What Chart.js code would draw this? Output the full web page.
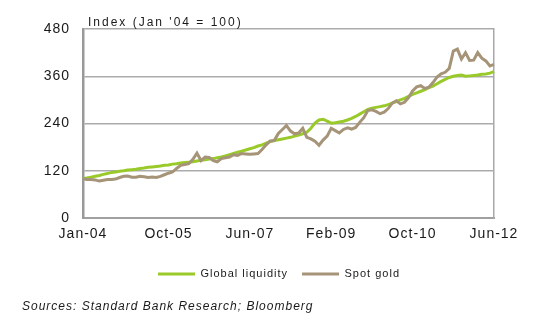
<!DOCTYPE html>
<html>
<head>
<meta charset="utf-8">
<script src="https://cdn.jsdelivr.net/npm/chart.js@4.4.1/dist/chart.umd.min.js"></script>
<style>
  html, body { margin: 0; padding: 0; background: #fff; }
  canvas { display: block; }
</style>
</head>
<body>
<canvas id="myChart" width="550" height="324"></canvas>
<script>
"use strict";

// monthly, Jan-04 .. Jun-12
const MONTHS = ['Jan', 'Feb', 'Mar', 'Apr', 'May', 'Jun', 'Jul', 'Aug', 'Sep', 'Oct', 'Nov', 'Dec'];
const START_YEAR = 2004;
const N_MONTHS = 102;
const TICK_LABELS = ['Jan-04', 'Oct-05', 'Jun-07', 'Feb-09', 'Oct-10', 'Jun-12'];

const liquidity = [
	100, 102, 104, 106, 108, 111, 113, 116, 117, 119, 120, 122,
	123, 124, 126, 127, 129, 130, 131, 132, 134, 135, 137, 138,
	140, 141, 142, 143, 145, 147, 148, 150, 151, 153, 155, 158,
	161, 164, 167, 170, 173, 176, 179, 183, 186, 190, 194, 197,
	199, 201, 203, 205, 208, 211, 214, 218, 228, 241, 249, 251,
	246, 241, 242, 244, 246, 249, 253, 258, 264, 270, 276, 279,
	281, 283, 285, 288, 292, 296, 300, 304, 309, 314, 318, 322,
	326, 331, 335, 341, 347, 352, 357, 360, 362, 363, 360, 361,
	362, 363, 365, 366, 368, 372
];

const gold = [
	100, 98, 98, 97, 94, 96, 98, 98, 99, 103, 106, 107,
	104, 104, 106, 105, 103, 104, 103, 106, 110, 114, 117, 126,
	134, 136, 138, 149, 165, 146, 155, 154, 146, 143, 151, 153,
	155, 161, 159, 164, 163, 162, 163, 164, 174, 186, 196, 197,
	215, 225, 235, 221, 214, 216, 228, 205, 201, 195, 185, 198,
	208, 228, 222, 216, 225, 229, 226, 230, 243, 255, 273, 275,
	271, 265, 269, 278, 292, 298, 290, 294, 306, 323, 333, 336,
	329, 332, 344, 358, 366, 370, 380, 424, 429, 404, 420, 400,
	401, 420, 406, 399, 386, 390
];

const labels = [];
for (let i = 0; i < N_MONTHS; i++) {
	const yy = String((START_YEAR + Math.floor(i / 12)) % 100).padStart(2, '0');
	labels.push(MONTHS[i % 12] + '-' + yy);
}

const FONT = '"Liberation Sans", Arial, sans-serif';
const TEXT = '#1a1a1a';

// excel-ish wide text
const spacing = {
	id: 'spacing',
	beforeUpdate(chart) { chart.ctx.letterSpacing = '1px'; },
	beforeDraw(chart) { chart.ctx.letterSpacing = '1px'; }
};

const indexTitle = {
	id: 'indexTitle',
	afterDraw(chart) {
		const ctx = chart.ctx;
		ctx.save();
		ctx.letterSpacing = '2px';
		ctx.font = '12px ' + FONT;
		ctx.fillStyle = TEXT;
		ctx.textAlign = 'left';
		ctx.textBaseline = 'alphabetic';
		ctx.fillText("Index (Jan '04 = 100)", chart.chartArea.left + 5, chart.chartArea.top - 3);
		ctx.restore();
	}
};

const data = {
	labels: labels,
	datasets: [
		{
			label: 'Global liquidity',
			data: liquidity,
			borderColor: '#9ACA2A',
			backgroundColor: '#9ACA2A',
			borderWidth: 3,
			pointRadius: 0,
			tension: 0,
			order: 1
		},
		{
			label: 'Spot gold',
			data: gold,
			borderColor: '#A59478',
			backgroundColor: '#A59478',
			borderWidth: 3,
			pointRadius: 0,
			tension: 0,
			order: 0
		}
	]
};

const config = {
	type: 'line',
	data: data,
	options: {
		responsive: false,
		animation: false,
		layout: { padding: { top: 29, left: 22, right: 14, bottom: 0 } },
		plugins: {
			legend: {
				position: 'bottom',
				labels: {
					usePointStyle: true,
					pointStyle: 'line',
					pointStyleWidth: 37,
					padding: 14,
					color: TEXT,
					font: { family: FONT, size: 11 },
					sort: (a, b) => a.datasetIndex - b.datasetIndex
				}
			},
			title: {
				display: true,
				position: 'bottom',
				align: 'start',
				text: 'Sources: Standard Bank Research; Bloomberg',
				color: TEXT,
				font: { family: FONT, size: 12, style: 'italic', weight: 'normal' },
				padding: { top: 10, bottom: 10 }
			},
			tooltip: { enabled: false }
		},
		scales: {
			x: {
				grid: { display: false, drawTicks: false },
				border: { display: true, color: '#A0A0A0', width: 2 },
				ticks: {
					autoSkip: false,
					maxRotation: 0,
					padding: 8,
					color: TEXT,
					font: { family: FONT, size: 14 },
					callback: function (val) {
						const l = this.getLabelForValue(val);
						return TICK_LABELS.includes(l) ? l : null;
					}
				},
				afterFit: (s) => { s.height = 36.5; }
			},
			y: {
				min: 0,
				max: 480,
				grid: { color: '#ABABAB', lineWidth: 1.5, drawTicks: false },
				border: { display: true, color: '#999999', width: 2.5 },
				ticks: {
					stepSize: 120,
					padding: 13,
					color: TEXT,
					font: { family: FONT, size: 14 }
				},
				afterFit: (s) => { s.width = 61; }
			},
			yR: {
				position: 'right',
				grid: { display: false, drawTicks: false },
				border: { display: true, color: '#A8A8A8', width: 1.5 },
				ticks: { display: false },
				afterFit: (s) => { s.width = 42; }
			}
		}
	},
	plugins: [spacing, indexTitle]
};

const myChart = new Chart(document.getElementById('myChart'), config);
</script>
</body>
</html>
